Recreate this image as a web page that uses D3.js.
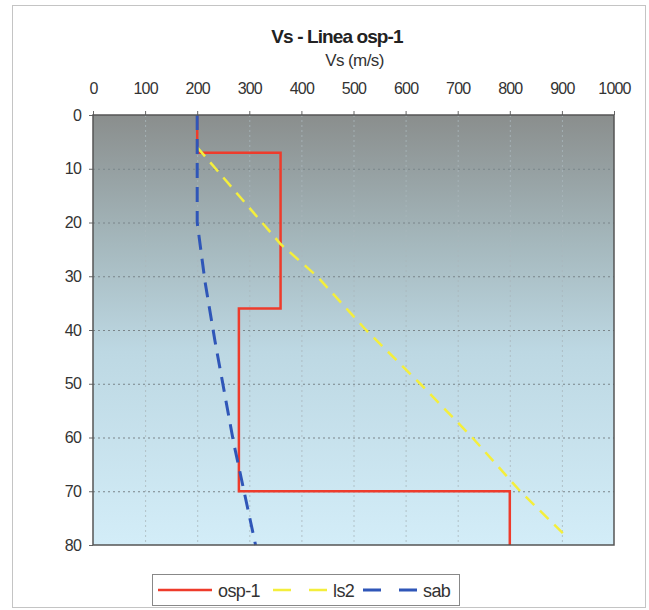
<!DOCTYPE html>
<html>
<head>
<meta charset="utf-8">
<script src="https://cdn.jsdelivr.net/npm/d3@7"></script>
<style>
  body { margin: 0; background: #fff; }
  text { font-family: Arial, "Liberation Sans", sans-serif; }
</style>
</head>
<body>
<svg id="chart" width="649" height="610"></svg>
<script>
// values: [Vs (m/s), depth (m)]
var osp1 = [[200, 0], [200, 7], [360, 7], [360, 36], [280, 36], [280, 70], [800, 70], [800, 80]];
var ls2 = [[200, 6], [360, 24], [430, 30], [524, 40], [628, 50], [728, 60], [820, 70], [904, 78]];
var sab = [[200, 0], [200, 20], [215, 31], [234, 42], [270, 61], [312, 80]];

var xTicks = [0, 100, 200, 300, 400, 500, 600, 700, 800, 900, 1000];
var yTicks = [0, 10, 20, 30, 40, 50, 60, 70, 80];

var series = [
    { name: "osp-1", data: osp1, color: "#ee3b2b", width: 2.5, dash: null },
    { name: "ls2", data: ls2, color: "#f4ee3c", width: 2.5, dash: "12,8" },
    { name: "sab", data: sab, color: "#2f56b8", width: 3, dash: "15,9" }
];

var svg = d3.select("#chart"),
    plotL = 93, plotR = 614, plotT = 115, plotB = 545;

var x = d3.scaleLinear().domain([0, 1000]).range([plotL, plotR]);
var y = d3.scaleLinear().domain([0, 80]).range([plotT, plotB]);

// outer frame
svg.append("rect")
    .attr("x", 12.5).attr("y", 5.5)
    .attr("width", 633).attr("height", 602)
    .attr("fill", "#fff")
    .attr("stroke", "#c4c4c4");

var defs = svg.append("defs");
var grad = defs.append("linearGradient")
    .attr("id", "bg").attr("x1", 0).attr("y1", 0).attr("x2", 0).attr("y2", 1);
grad.append("stop").attr("offset", "0%").attr("stop-color", "#8a8e8d");
grad.append("stop").attr("offset", "30%").attr("stop-color", "#a5b8bd");
grad.append("stop").attr("offset", "55%").attr("stop-color", "#bdd8e3");
grad.append("stop").attr("offset", "100%").attr("stop-color", "#d3edf8");

svg.append("rect")
    .attr("x", plotL).attr("y", plotT)
    .attr("width", plotR - plotL).attr("height", plotB - plotT)
    .attr("fill", "url(#bg)");

// grid
svg.append("g").selectAll("line")
    .data(xTicks.slice(1, -1))
    .enter().append("line")
    .attr("x1", function (d) { return x(d) + 0.5; })
    .attr("x2", function (d) { return x(d) + 0.5; })
    .attr("y1", plotT).attr("y2", plotB)
    .attr("stroke", "#a9b8bd")
    .attr("stroke-width", 0.8)
    .attr("stroke-dasharray", "2,3");

svg.append("g").selectAll("line")
    .data(yTicks.slice(1, -1))
    .enter().append("line")
    .attr("y1", function (d) { return y(d) + 0.5; })
    .attr("y2", function (d) { return y(d) + 0.5; })
    .attr("x1", plotL).attr("x2", plotR)
    .attr("stroke", "#7a858a")
    .attr("stroke-width", 1)
    .attr("stroke-dasharray", "2,3");

// axes
var xAxis = svg.append("g")
    .attr("transform", "translate(0," + plotT + ")")
    .call(d3.axisTop(x).tickValues(xTicks).tickFormat(d3.format("d")).tickSize(4).tickPadding(17));
var yAxis = svg.append("g")
    .attr("transform", "translate(" + plotL + ",0)")
    .call(d3.axisLeft(y).tickValues(yTicks).tickSize(4).tickPadding(8));

[xAxis, yAxis].forEach(function (g) {
    g.select(".domain").remove();
    g.selectAll(".tick line").attr("stroke", "#666");
    g.selectAll("text")
        .attr("fill", "#333")
        .style("font-size", "16px")
        .style("letter-spacing", "-0.8px");
});

// lines
var line = d3.line()
    .x(function (d) { return x(d[0]); })
    .y(function (d) { return y(d[1]); });

svg.append("g").selectAll("path")
    .data(series)
    .enter().append("path")
    .attr("d", function (d) { return line(d.data); })
    .attr("fill", "none")
    .attr("stroke", function (d) { return d.color; })
    .attr("stroke-width", function (d) { return d.width; })
    .attr("stroke-dasharray", function (d) { return d.dash; });

// plot border
svg.append("rect")
    .attr("x", plotL).attr("y", plotT)
    .attr("width", plotR - plotL).attr("height", plotB - plotT)
    .attr("fill", "none")
    .attr("stroke", "#555")
    .attr("stroke-width", 1.5);

// titles
svg.append("text")
    .attr("x", 337).attr("y", 43)
    .attr("text-anchor", "middle")
    .style("font-size", "19px")
    .style("font-weight", "bold")
    .style("letter-spacing", "-0.9px")
    .attr("fill", "#222")
    .text("Vs - Linea osp-1");

svg.append("text")
    .attr("x", (plotL + plotR) / 2 + 1).attr("y", 66)
    .attr("text-anchor", "middle")
    .style("font-size", "17px")
    .style("letter-spacing", "-0.6px")
    .attr("fill", "#333")
    .text("Vs (m/s)");

// legend
var legend = svg.append("g");
legend.append("rect")
    .attr("x", 152.5).attr("y", 574.5)
    .attr("width", 307).attr("height", 31)
    .attr("fill", "#fff")
    .attr("stroke", "#888");

var legX = [158, 273, 363];
var item = legend.selectAll("g.item")
    .data(series)
    .enter().append("g")
    .attr("class", "item")
    .attr("transform", function (d, i) { return "translate(" + legX[i] + ",590)"; });

item.append("line")
    .attr("x1", 0).attr("x2", 54)
    .attr("stroke", function (d) { return d.color; })
    .attr("stroke-width", function (d) { return d.width; })
    .attr("stroke-dasharray", function (d) { return d.dash ? "18,18" : null; });

item.append("text")
    .attr("x", 60).attr("y", 6.5)
    .style("font-size", "18px")
    .style("letter-spacing", "-0.6px")
    .attr("fill", "#333")
    .text(function (d) { return d.name; });
</script>
</body>
</html>
